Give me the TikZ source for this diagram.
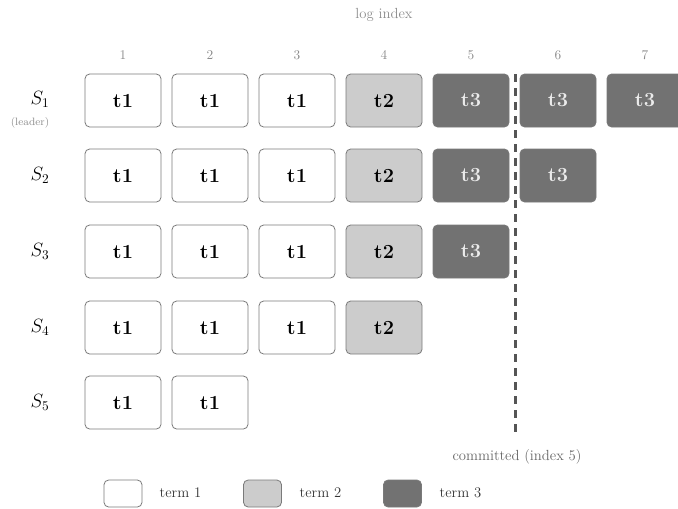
\documentclass[tikz,border=0pt]{standalone}
\usetikzlibrary{positioning}
\definecolor{bord}{HTML}{7A7A7A}
\definecolor{lgray}{HTML}{CCCCCC}
\definecolor{dgray}{HTML}{727272}
\definecolor{lbl}{HTML}{8C8C8C}
\definecolor{txt}{HTML}{333333}
\definecolor{commitcol}{HTML}{555555}
\begin{document}
\begin{tikzpicture}[x=0.75pt,y=-0.75pt,
  entry/.style={draw=bord,line width=0.6pt,rounded corners=3.5pt,minimum width=57pt,minimum height=39.75pt,inner sep=0pt,font=\fontsize{15}{17}\selectfont\bfseries},
  tone/.style={entry,fill=white,text=black},
  ttwo/.style={entry,fill=lgray,text=black},
  tthree/.style={entry,fill=dgray,text=white!92!black},
  idx/.style={text=lbl,font=\fontsize{10}{12}\selectfont},
  srv/.style={font=\fontsize{14}{16}\selectfont},
  leg/.style={draw=bord,line width=0.6pt,rounded corners=3.5pt,minimum width=28.5pt,minimum height=20.25pt,inner sep=0pt},
  legtxt/.style={text=txt,font=\fontsize{11}{13}\selectfont,anchor=west}]
\useasboundingbox (0,0) rectangle (678,508);
% header
\node[idx,font=\fontsize{11}{13}\selectfont] (hdr) at (384,15) {log index};
\foreach \c/\x in {1/123,2/210,3/297,4/384,5/471,6/558,7/645}
  \node[idx] (c\c) at (\x,55) {\c};
% server labels
\node[srv] (s1) at (40,99) {$S_1$};
\node[idx,font=\fontsize{8}{10}\selectfont] (ldr) at (30,123) {(leader)};
\node[srv] (s2) at (40,175) {$S_2$};
\node[srv] (s3) at (40,251) {$S_3$};
\node[srv] (s4) at (40,327) {$S_4$};
\node[srv] (s5) at (40,402) {$S_5$};
% row 1
\node[tone]   (a1) at (123,100.5) {t1};
\node[tone]   (a2) at (210,100.5) {t1};
\node[tone]   (a3) at (297,100.5) {t1};
\node[ttwo]   (a4) at (384,100.5) {t2};
\node[tthree] (a5) at (471,100.5) {t3};
\node[tthree] (a6) at (558,100.5) {t3};
\node[tthree] (a7) at (645,100.5) {t3};
% row 2
\node[tone]   (b1) at (123,175.5) {t1};
\node[tone]   (b2) at (210,175.5) {t1};
\node[tone]   (b3) at (297,175.5) {t1};
\node[ttwo]   (b4) at (384,175.5) {t2};
\node[tthree] (b5) at (471,175.5) {t3};
\node[tthree] (b6) at (558,175.5) {t3};
% row 3
\node[tone]   (d1) at (123,251.5) {t1};
\node[tone]   (d2) at (210,251.5) {t1};
\node[tone]   (d3) at (297,251.5) {t1};
\node[ttwo]   (d4) at (384,251.5) {t2};
\node[tthree] (d5) at (471,251.5) {t3};
% row 4
\node[tone]   (e1) at (123,327.5) {t1};
\node[tone]   (e2) at (210,327.5) {t1};
\node[tone]   (e3) at (297,327.5) {t1};
\node[ttwo]   (e4) at (384,327.5) {t2};
% row 5
\node[tone]   (f1) at (123,402.5) {t1};
\node[tone]   (f2) at (210,402.5) {t1};
% commit line
\coordinate (ctop) at (515.5,74);
\coordinate (cbot) at (515.5,433);
\draw[commitcol,line width=1.6pt,dash pattern=on 6pt off 4.5pt] (ctop) -- (cbot);
\node[idx,text=txt!75!white,font=\fontsize{11}{13}\selectfont] (cm) at (517,457) {committed (index 5)};
% legend
\node[leg,fill=white] (l1) at (123,493.5) {};
\node[legtxt] (lt1) at (155,493) {term 1};
\node[leg,fill=lgray] (l2) at (262.5,493.5) {};
\node[legtxt] (lt2) at (295,493) {term 2};
\node[leg,fill=dgray] (l3) at (402.5,493.5) {};
\node[legtxt] (lt3) at (435,493) {term 3};
\end{tikzpicture}
\end{document}
